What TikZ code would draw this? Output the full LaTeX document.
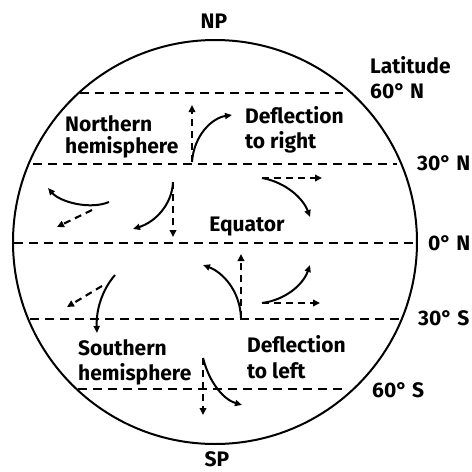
\documentclass[tikz,border=0pt]{standalone}
\usepackage{fontspec}
\setmainfont{Fira Sans}
\usetikzlibrary{arrows.meta}
\begin{document}
\begin{tikzpicture}[x=1pt,y=-1pt,
  lbl/.style={inner sep=0pt,anchor=base west,text depth=0pt,font=\fontsize{21}{25}\selectfont\bfseries},
  lblc/.style={inner sep=0pt,anchor=base,text depth=0pt,font=\fontsize{21}{25}\selectfont\bfseries},
  latline/.style={line width=1.5pt,dash pattern=on 9pt off 6pt},
  windarrow/.style={line width=2pt,-{Triangle[width=6pt,length=7pt]}},
  straightarrow/.style={line width=2.1pt,dash pattern=on 7pt off 5pt,-{Triangle[width=6.5pt,length=7pt]}}]
\useasboundingbox (0,0) rectangle (472,472);
% globe
\node[circle,draw,line width=2pt,minimum size=404pt,inner sep=0pt] (globe) at (215,242) {};
% latitude lines
\coordinate (l60nA) at (80,93);  \coordinate (l60nB) at (343,93);
\coordinate (l30nA) at (33,164); \coordinate (l30nB) at (397,164);
\coordinate (l0A) at (14,243);   \coordinate (l0B) at (413,243);
\coordinate (l30sA) at (30,319); \coordinate (l30sB) at (400,319);
\coordinate (l60sA) at (78,389); \coordinate (l60sB) at (345,389);
\draw[latline] (l60nA) -- (l60nB);
\draw[latline] (l30nA) -- (l30nB);
\draw[latline] (l0A) -- (l0B);
\draw[latline] (l30sA) -- (l30sB);
\draw[latline] (l60sA) -- (l60sB);
% labels
\node[lblc] (np) at (214,28) {NP};
\node[lblc] (sp) at (217,466) {SP};
\node[lbl] (lat) at (370,73) {Latitude};
\node[lbl] (n60) at (370,98) {60° N};
\node[lbl] (n30) at (417,170) {30° N};
\node[lbl] (eq0) at (428,250) {0° N};
\node[lbl] (s30) at (418,325) {30° S};
\node[lbl] (s60) at (372,397) {60° S};
\node[lbl] (nh1) at (65,131) {Northern};
\node[lbl] (nh2) at (65,153) {hemisphere};
\node[lbl] (dr1) at (245,123) {Deflection};
\node[lbl] (dr2) at (245,148) {to right};
\node[lblc] (eqt) at (247,231) {Equator};
\node[lbl] (sh1) at (78,355) {Southern};
\node[lbl] (sh2) at (78,380) {hemisphere};
\node[lbl] (dl1) at (247,352) {Deflection};
\node[lbl] (dl2) at (247,378) {to left};
% arrow points
\coordinate (a1s) at (192,162); \coordinate (a1d) at (192,105); \coordinate (a1c) at (232,115);
\coordinate (a2s) at (173,182); \coordinate (a2d) at (173,237); \coordinate (a2c) at (133,229);
\coordinate (a3s) at (109,202); \coordinate (a3c) at (48,188);
\coordinate (a3ds) at (92,210); \coordinate (a3d) at (57,227);
\coordinate (a4s) at (262,178); \coordinate (a4d) at (322,178); \coordinate (a4c) at (310,217);
\coordinate (a5s) at (241,318); \coordinate (a5d) at (241,254); \coordinate (a5c) at (203,265);
\coordinate (a6s) at (262,303); \coordinate (a6d) at (320,303); \coordinate (a6c) at (310,265);
\coordinate (a7s) at (115,275); \coordinate (a7c) at (97,333);
\coordinate (a7ds) at (102,286); \coordinate (a7d) at (67,307);
\coordinate (a8s) at (203,358); \coordinate (a8d) at (203,415); \coordinate (a8c) at (242,405);
% straight (undeflected) paths
\draw[straightarrow] (a1s) -- (a1d);
\draw[straightarrow] (a2s) -- (a2d);
\draw[straightarrow] (a3ds) -- (a3d);
\draw[straightarrow] (a4s) -- (a4d);
\draw[straightarrow] (a5s) -- (a5d);
\draw[straightarrow] (a6s) -- (a6d);
\draw[straightarrow] (a7ds) -- (a7d);
\draw[straightarrow] (a8s) -- (a8d);
% deflected paths
\draw[windarrow] (a1s) .. controls (194,135) and (212,118) .. (a1c);
\draw[windarrow] (a2s) .. controls (172,205) and (155,222) .. (a2c);
\draw[windarrow] (a3s) .. controls (90,210) and (60,202) .. (a3c);
\draw[windarrow] (a4s) .. controls (285,182) and (303,198) .. (a4c);
\draw[windarrow] (a5s) .. controls (240,290) and (222,272) .. (a5c);
\draw[windarrow] (a6s) .. controls (285,300) and (303,285) .. (a6c);
\draw[windarrow] (a7s) .. controls (102,290) and (96,310) .. (a7c);
\draw[windarrow] (a8s) .. controls (210,385) and (225,400) .. (a8c);
\end{tikzpicture}
\end{document}
